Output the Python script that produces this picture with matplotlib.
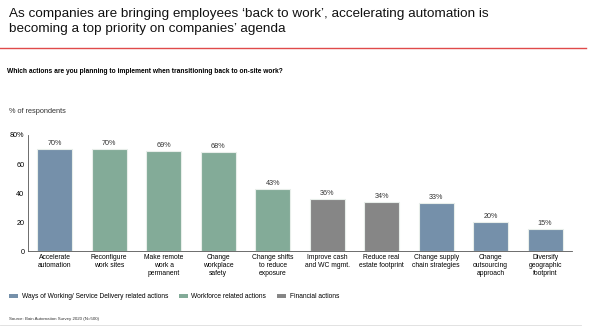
import numpy as np
import matplotlib
matplotlib.use("Agg")
import matplotlib.pyplot as plt
from matplotlib.patches import Patch
from matplotlib.lines import Line2D

plt.rcParams['font.family'] = ['Liberation Sans', 'DejaVu Sans']

categories = ["Accelerate\nautomation", "Reconfigure\nwork sites", "Make remote\nwork a\npermanent",
              "Change\nworkplace\nsafety", "Change shifts\nto reduce\nexposure", "Improve cash\nand WC mgmt.",
              "Reduce real\nestate footprint", "Change supply\nchain strategies", "Change\noutsourcing\napproach",
              "Diversify\ngeographic\nfootprint"]
values = [70, 70, 69, 68, 43, 36, 34, 33, 20, 15]
groups = ["ways", "work", "work", "work", "work", "fin", "fin", "ways", "ways", "ways"]
group_names = {"ways": "Ways of Working/ Service Delivery related actions",
               "work": "Workforce related actions",
               "fin": "Financial actions"}
colors = {"ways": "#7590aa", "work": "#83ab98", "fin": "#868686"}

fig = plt.figure(figsize=(5.95, 3.3), dpi=100)
ax = fig.add_axes([0.047, 0.239, 0.914, 0.352])

x = np.arange(len(values))
bars = ax.bar(x, values, width=0.64, color=[colors[g] for g in groups],
              edgecolor="#e8eeea", linewidth=0.8)
for xi, v in zip(x, values):
    ax.text(xi, v + 1.5, "%d%%" % v, ha='center', va='bottom', fontsize=5.2, color="#333333")

ax.set_xlim(-0.49, 9.49)
ax.set_ylim(0, 80)
ax.set_yticks([0, 20, 40, 60, 80])
ax.set_yticklabels(["0", "20", "40", "60", "80%"])
ax.set_xticks(x)
ax.set_xticklabels(categories, fontsize=4.9, linespacing=1.25)
ax.tick_params(axis='y', labelsize=5.2, length=0, pad=2.5)
ax.tick_params(axis='x', length=0, pad=2)
for s in ['top', 'right']:
    ax.spines[s].set_visible(False)
for s in ['left', 'bottom']:
    ax.spines[s].set_linewidth(0.6)
    ax.spines[s].set_color("#555555")

fig.text(0.015, 0.975, "As companies are bringing employees \u2018back to work\u2019, accelerating automation is\nbecoming a top priority on companies\u2019 agenda",
         fontsize=9.7, va='top', ha='left', linespacing=1.3, color="#111111")
fig.add_artist(Line2D([0.0, 0.985], [0.855, 0.855], color="#e04a4a", linewidth=1.0))
fig.text(0.011, 0.782, "Which actions are you planning to implement when transitioning back to on-site work?",
         fontsize=4.8, fontweight='bold', va='center', ha='left')
fig.text(0.015, 0.663, "% of respondents", fontsize=5.3, va='center', ha='left', color="#333333")

handles = [Patch(facecolor=colors[k], edgecolor='none', label=group_names[k]) for k in ["ways", "work", "fin"]]
fig.legend(handles=handles, loc='center left', bbox_to_anchor=(0.005, 0.1), ncol=3, frameon=False,
           fontsize=4.8, handlelength=1.4, handleheight=0.6, handletextpad=0.5, columnspacing=1.6)

fig.text(0.015, 0.032, "Source: Bain Automation Survey 2020 (N=500)", fontsize=3.2, va='center', ha='left', color="#333333")
fig.add_artist(Line2D([0.0, 0.977], [0.015, 0.015], color="#dddddd", linewidth=0.6))

fig.savefig("out.png", dpi=100)
